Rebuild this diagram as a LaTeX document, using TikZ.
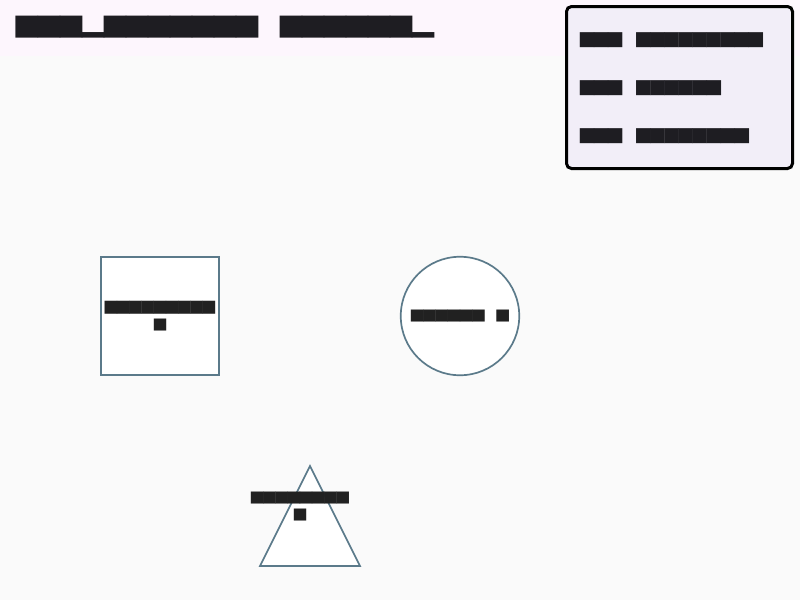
\documentclass[tikz,border=0pt]{standalone}
\usepackage{fontspec}
\usepackage{graphicx}
\newfontfamily\tofufont{DejaVu Sans Mono}
\definecolor{bgmain}{HTML}{FAFAFA}
\definecolor{bgband}{HTML}{FDF6FD}
\definecolor{legfill}{HTML}{F2EEF8}
\definecolor{shapeedge}{HTML}{5B7A8A}
\definecolor{inkdark}{HTML}{1E1D22}
\definecolor{inknode}{HTML}{212121}
\newcommand{\tf}[3]{\resizebox*{#1pt}{#2pt}{\tofufont #3}}
\newcommand{\tftwo}[6]{\vbox{\offinterlineskip\halign{\hfil##\hfil\cr\tf{#1}{#2}{#3}\cr\noalign{\kern5pt}\tf{#4}{#5}{#6}\cr}}}
\tikzset{
  shapebox/.style={draw=shapeedge, line width=1.7pt, fill=white, inner sep=0pt, text=inknode},
  plainlabel/.style={inner sep=0pt, outer sep=0pt},
  legendbox/.style={draw=black, line width=3pt, fill=legfill, rounded corners=5pt, inner sep=0pt},
}
\begin{document}
\begin{tikzpicture}[x=1pt,y=-1pt]
\useasboundingbox (0,0) rectangle (800,600);
\fill[bgmain] (0,0) rectangle (800,600);
\fill[bgband] (0,0) rectangle (800,56);
% title
\node[plainlabel, anchor=north west, text=inkdark] (title) at (16,16.3) {\tf{418}{22}{███▂███████ ██████▂}};
% legend
\node[legendbox, minimum width=226pt, minimum height=162pt] (legend) at (679.5,87.5) {};
\node[plainlabel, anchor=north west, text=inkdark] (leg1) at (580,33) {\tf{183}{15}{███ █████████}};
\node[plainlabel, anchor=north west, text=inkdark] (leg2) at (580,81) {\tf{141}{15}{███ ██████}};
\node[plainlabel, anchor=north west, text=inkdark] (leg3) at (580,129) {\tf{169}{15}{███ ████████}};
% square
\node[shapebox, rectangle, minimum width=118.5pt, minimum height=118.5pt] (sq) at (160,316) {\tftwo{110}{13}{█████████}{12}{12}{█}};
% circle
\node[shapebox, circle, minimum size=118.5pt] (circ) at (460,316) {\tf{98}{12}{██████ █}};
% triangle
\coordinate (tA) at (310,466);
\coordinate (tB) at (360,566);
\coordinate (tC) at (260,566);
\draw[draw=shapeedge, line width=1.7pt, fill=white] (tA) -- (tB) -- (tC) -- cycle;
\node[plainlabel, text=inknode] (trilabel) at (300,506.5) {\tftwo{98}{12}{████████}{12}{12}{█}};
\end{tikzpicture}
\end{document}
